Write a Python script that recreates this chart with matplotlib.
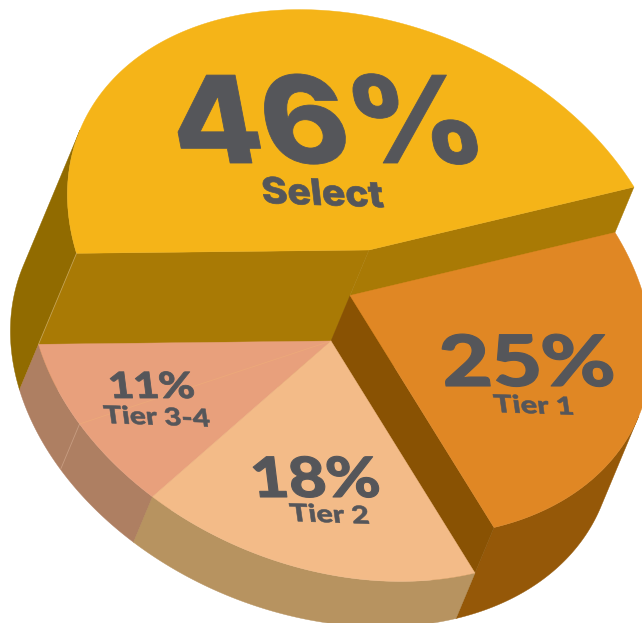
import numpy as np
import matplotlib
matplotlib.use("Agg")
import matplotlib.pyplot as plt
from matplotlib.patches import Polygon
from matplotlib.patheffects import AbstractPathEffect
from matplotlib.transforms import Affine2D

# Segment data, clockwise from the right-hand edge of "Select"
tiers = ["Tier 1", "Tier 2", "Tier 3-4", "Select"]
shares = [25, 18, 11, 46]
step_heights = [2, 1, 1, 3]
top_colors = ["#E08724", "#F3BB88", "#E8A07C", "#F5B418"]
wall_colors = ["#955808", "#B79360", "#AE7F62", "#916B00"]
face_colors = ["#895203", "#B79360", "#AE7F62", "#A97A05"]
text_color = "#55565A"

# Oblique projection of the unit disc
AXIS_U = np.array([265.0, -63.0])
AXIS_V = np.array([144.0, 232.0])
BASE_CENTER = np.array([312.0, 386.5])
RISE = np.array([19.0, -45.5])


class GlyphShape(AbstractPathEffect):
    """Widen, slant and slightly embolden a text's outlines."""

    def __init__(self, widen=1.0, slant=0.0, stroke=0.0):
        super().__init__()
        self.widen, self.slant, self.stroke = widen, slant, stroke

    def draw_path(self, renderer, gc, tpath, affine, rgbFace=None):
        shaped = Affine2D().skew_deg(self.slant, 0).scale(self.widen, 1) + affine
        gc0 = renderer.new_gc()
        gc0.copy_properties(gc)
        if self.stroke:
            gc0.set_foreground(rgbFace)
            gc0.set_linewidth(self.stroke)
        renderer.draw_path(gc0, tpath, shaped, rgbFace)
        gc0.restore()


def spoke(deg):
    t = np.radians(np.atleast_1d(deg))
    return np.outer(np.cos(t), AXIS_U) + np.outer(np.sin(t), AXIS_V)


def cross(a, b):
    return a[..., 0] * b[..., 1] - a[..., 1] * b[..., 0]


fig = plt.figure(figsize=(6.42, 6.23), dpi=100)
ax = fig.add_axes([0, 0, 1, 1])
ax.set_xlim(0, 642)
ax.set_ylim(623, 0)
ax.axis("off")

bounds = np.concatenate([[0], np.cumsum(shares)]) * 3.6
order = [3, 0, 2, 1]  # back-to-front painting order

for i in order:
    start, end = bounds[i], bounds[i + 1]
    top_c = BASE_CENTER + step_heights[i] * RISE
    drop = BASE_CENTER - top_c
    angles = np.linspace(start, end, 400)
    spokes = spoke(angles)
    top_rim = top_c + spokes

    # curved wall: only the stretch of rim that faces the viewer
    tangents = np.gradient(spokes, axis=0)
    outward = cross(tangents, spokes)
    facing = cross(tangents, np.tile(drop, (len(angles), 1))) * outward > 0
    if facing.any():
        upper = top_rim[facing]
        lower = upper + drop
        ax.add_patch(Polygon(np.vstack([upper, lower[::-1]]), closed=True,
                             fc=wall_colors[i], ec=wall_colors[i], lw=0.3))

    # radial faces that turn towards the viewer
    middle = spoke((start + end) / 2)[0]
    for edge in (start, end):
        d = spoke(edge)[0]
        if cross(d, drop) * cross(d, middle) < 0:
            ax.add_patch(Polygon([top_c, top_c + d, top_c + d + drop, BASE_CENTER], closed=True,
                                 fc=face_colors[i], ec=face_colors[i], lw=0.3))

    ax.add_patch(Polygon(np.vstack([[top_c], top_rim]), closed=True,
                         fc=top_colors[i], ec=top_colors[i], lw=0.3))

    if tiers[i] == "Tier 3-4":
        # seam between the two tiers that share this segment
        p = top_c + spoke(175.0)[0]
        ax.plot([top_c[0], p[0]], [top_c[1], p[1]], color="#F0B078", lw=0.6, alpha=0.55)
        ax.plot([p[0], p[0] + drop[0]], [p[1], p[1] + drop[1]],
                color="#D2A98E", lw=0.6, alpha=0.7)

# Lighter hairline on the corner of the "Select" block
p = BASE_CENTER + 3 * RISE + spoke(bounds[3])[0]
ax.plot([p[0], p[0] - RISE[0] * 2], [p[1], p[1] - RISE[1] * 2], color="#C8A860", lw=0.6, alpha=0.8)

labels = [
    ("46%", 178, 163, 87, "Inter", 800, 1.09, -10, 0, 0.6),
    ("Select", 263, 203, 26, "Inter", 800, 1.08, -8, -2, 0.5),
    ("25%", 443, 386, 51, "Lato", 900, 1.24, -6, 0, 0.8),
    ("Tier 1", 495, 412, 17.5, "Lato", 900, 1.27, -8, -2, 0.4),
    ("18%", 253, 497, 40, "Lato", 900, 1.17, -6, 0, 0.8),
    ("Tier 2", 291, 521, 17.5, "Lato", 900, 1.26, -8, -2, 0.4),
    ("11%", 110, 398, 26, "Lato", 900, 1.20, -6, 0, 0.6),
    ("Tier 3-4", 105, 423, 17.5, "Lato", 900, 1.23, -8, -2, 0.4),
]
for text, x, y, size, family, weight, widen, slant, angle, stroke in labels:
    ax.text(x, y, text, family=family, weight=weight, fontsize=size, color=text_color,
            ha="left", va="baseline", rotation=angle, rotation_mode="anchor",
            path_effects=[GlyphShape(widen, slant, stroke)])

fig.savefig("out.png", dpi=100)
